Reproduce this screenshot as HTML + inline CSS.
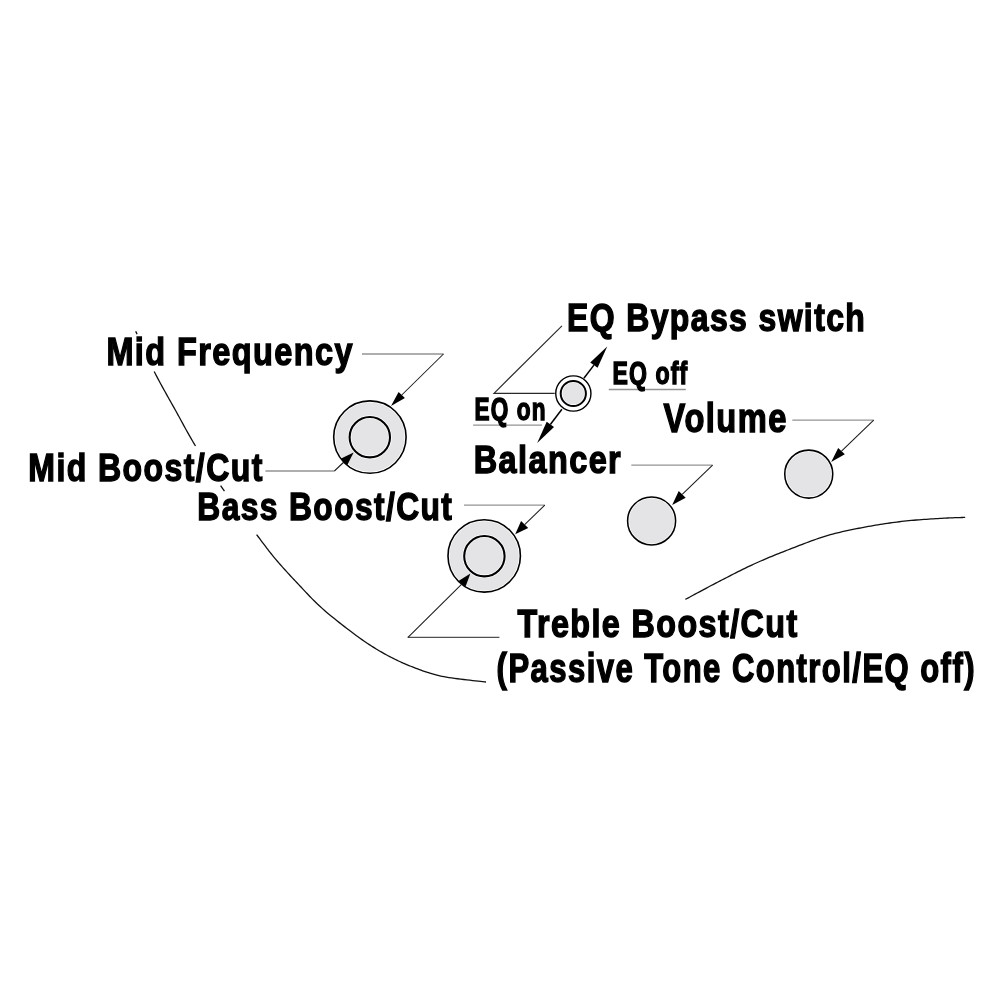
<!DOCTYPE html><html><head><meta charset="utf-8"><style>html,body{margin:0;padding:0;background:#fff;width:1000px;height:1000px;overflow:hidden}svg{display:block;position:absolute;left:0;top:0}#tx{will-change:transform}</style></head><body>
<svg width="1000" height="1000" viewBox="0 0 1000 1000">
<path d="M135.70,331.20 L136.34,332.62 L137.11,334.32" fill="none" stroke="#111" stroke-width="1.3"/>
<path d="M154.20,371.50 L155.45,373.96 L156.72,376.42 L158.01,378.87 L159.31,381.31 L160.63,383.75 L161.96,386.18 L163.30,388.60 L164.64,391.02 L165.99,393.43 L167.34,395.82 L168.69,398.21 L170.03,400.59 L171.36,402.96 L172.69,405.32 L174.00,407.67 L175.30,410.00 L176.57,412.31 L177.82,414.58 L179.05,416.81 L180.25,419.03 L181.45,421.22 L182.64,423.41 L183.83,425.58 L185.03,427.76 L186.24,429.95 L187.47,432.15 L188.72,434.37 L189.99,436.62 L191.30,438.90 L192.66,441.22 L194.05,443.58 L195.50,446.00" fill="none" stroke="#111" stroke-width="1.3"/>
<path d="M220.61,485.53 L222.50,488.30 L224.46,491.12" fill="none" stroke="#111" stroke-width="1.3"/>
<path d="M256.60,534.60 L258.21,536.74 L259.70,538.73 L261.08,540.59 L262.38,542.31 L263.59,543.94 L264.75,545.47 L265.86,546.94 L266.93,548.34 L267.99,549.71 L269.03,551.06 L270.09,552.40 L271.17,553.75 L272.29,555.13 L273.46,556.55 L274.69,558.04 L276.00,559.60 L277.37,561.22 L278.78,562.85 L280.22,564.50 L281.68,566.16 L283.16,567.83 L284.66,569.50 L286.18,571.18 L287.71,572.86 L289.25,574.54 L290.80,576.21 L292.35,577.88 L293.89,579.54 L295.43,581.18 L296.97,582.81 L298.49,584.41 L300.00,586.00 L301.48,587.56 L302.92,589.09 L304.33,590.59 L305.72,592.07 L307.10,593.54 L308.47,594.99 L309.85,596.44 L311.25,597.89 L312.67,599.34 L314.12,600.80 L315.61,602.27 L317.16,603.76 L318.76,605.27 L320.43,606.82 L322.17,608.39 L324.00,610.00 L325.94,611.67 L327.98,613.40 L330.12,615.18 L332.34,617.01 L334.63,618.86 L336.97,620.74 L339.35,622.62 L341.75,624.51 L344.16,626.38 L346.56,628.22 L348.94,630.04 L351.28,631.80 L353.57,633.51 L355.80,635.16 L357.95,636.72 L360.00,638.20 L361.97,639.60 L363.88,640.93 L365.75,642.21 L367.56,643.44 L369.34,644.62 L371.09,645.76 L372.80,646.86 L374.50,647.92 L376.18,648.96 L377.85,649.97 L379.52,650.95 L381.19,651.92 L382.86,652.87 L384.55,653.82 L386.26,654.76 L388.00,655.70 L389.75,656.63 L391.50,657.54 L393.25,658.43 L395.00,659.29 L396.75,660.14 L398.50,660.97 L400.25,661.78 L402.00,662.57 L403.75,663.34 L405.50,664.10 L407.25,664.84 L409.00,665.56 L410.75,666.27 L412.50,666.96 L414.25,667.64 L416.00,668.30 L417.72,668.95 L419.40,669.57 L421.05,670.18 L422.67,670.77 L424.28,671.34 L425.88,671.89 L427.50,672.43 L429.12,672.96 L430.78,673.47 L432.47,673.96 L434.22,674.44 L436.02,674.92 L437.88,675.38 L439.83,675.83 L441.87,676.27 L444.00,676.70 L446.32,677.13 L448.87,677.55 L451.61,677.96 L454.50,678.37 L457.50,678.76 L460.57,679.15 L463.67,679.52 L466.75,679.88 L469.78,680.21 L472.71,680.54 L475.51,680.84 L478.12,681.12 L480.52,681.38 L482.66,681.61 L484.50,681.82 L486.00,682.00" fill="none" stroke="#111" stroke-width="1.3"/>
<path d="M685.40,599.40 L686.54,598.79 L687.89,598.06 L689.45,597.22 L691.18,596.29 L693.07,595.27 L695.09,594.18 L697.22,593.02 L699.45,591.82 L701.75,590.59 L704.09,589.33 L706.47,588.07 L708.85,586.80 L711.21,585.55 L713.54,584.32 L715.81,583.14 L718.00,582.00 L720.16,580.89 L722.34,579.76 L724.54,578.62 L726.76,577.47 L729.00,576.32 L731.25,575.16 L733.51,574.00 L735.79,572.84 L738.07,571.69 L740.35,570.55 L742.64,569.42 L744.92,568.30 L747.20,567.19 L749.48,566.11 L751.74,565.04 L754.00,564.00 L756.25,562.98 L758.49,561.98 L760.72,561.00 L762.95,560.03 L765.18,559.07 L767.41,558.13 L769.64,557.20 L771.88,556.28 L774.11,555.37 L776.35,554.46 L778.60,553.56 L780.86,552.67 L783.13,551.78 L785.40,550.88 L787.70,549.99 L790.00,549.10 L792.32,548.20 L794.65,547.29 L797.00,546.38 L799.36,545.47 L801.73,544.56 L804.10,543.65 L806.49,542.74 L808.88,541.85 L811.27,540.97 L813.66,540.10 L816.06,539.26 L818.45,538.43 L820.85,537.63 L823.24,536.86 L825.62,536.11 L828.00,535.40 L830.38,534.72 L832.75,534.07 L835.12,533.44 L837.50,532.84 L839.88,532.27 L842.25,531.71 L844.62,531.17 L847.00,530.65 L849.38,530.15 L851.75,529.65 L854.12,529.17 L856.50,528.71 L858.88,528.25 L861.25,527.79 L863.62,527.34 L866.00,526.90 L868.38,526.46 L870.75,526.03 L873.12,525.62 L875.50,525.21 L877.88,524.82 L880.25,524.43 L882.62,524.06 L885.00,523.70 L887.38,523.35 L889.75,523.01 L892.12,522.68 L894.50,522.36 L896.88,522.06 L899.25,521.76 L901.62,521.47 L904.00,521.20 L906.40,520.94 L908.85,520.69 L911.34,520.45 L913.85,520.23 L916.37,520.02 L918.90,519.82 L921.42,519.63 L923.93,519.45 L926.40,519.28 L928.83,519.12 L931.22,518.96 L933.54,518.82 L935.79,518.68 L937.96,518.55 L940.03,518.42 L942.00,518.30 L943.90,518.19 L945.77,518.09 L947.60,517.99 L949.38,517.91 L951.12,517.84 L952.80,517.78 L954.42,517.72 L955.98,517.67 L957.45,517.62 L958.85,517.58 L960.16,517.55 L961.38,517.51 L962.50,517.48 L963.51,517.46 L964.41,517.43 L965.20,517.40" fill="none" stroke="#111" stroke-width="1.3"/>
<circle cx="369.9" cy="437.1" r="36.2" fill="#e4e4e6" stroke="#fff" stroke-width="3.1"/>
<circle cx="369.9" cy="437.1" r="36.2" fill="none" stroke="#000" stroke-width="1.6"/>
<circle cx="369.8" cy="437.2" r="20.2" fill="#e4e4e6" stroke="#fff" stroke-width="3.6"/>
<circle cx="369.8" cy="437.2" r="20.2" fill="none" stroke="#000" stroke-width="2.1"/>
<circle cx="484.2" cy="555.9" r="36.2" fill="#e4e4e6" stroke="#fff" stroke-width="3.1"/>
<circle cx="484.2" cy="555.9" r="36.2" fill="none" stroke="#000" stroke-width="1.6"/>
<circle cx="484.4" cy="556.2" r="20.2" fill="#e4e4e6" stroke="#fff" stroke-width="3.6"/>
<circle cx="484.4" cy="556.2" r="20.2" fill="none" stroke="#000" stroke-width="2.1"/>
<circle cx="651.6" cy="520.9" r="24.0" fill="#e4e4e6" stroke="#fff" stroke-width="3.05"/>
<circle cx="651.6" cy="520.9" r="24.0" fill="none" stroke="#000" stroke-width="1.55"/>
<circle cx="808.75" cy="474.1" r="24.0" fill="#e4e4e6" stroke="#fff" stroke-width="3.05"/>
<circle cx="808.75" cy="474.1" r="24.0" fill="none" stroke="#000" stroke-width="1.55"/>
<circle cx="573.35" cy="393.5" r="17.6" fill="#fff" stroke="#fff" stroke-width="2.9"/>
<circle cx="573.35" cy="393.5" r="17.6" fill="none" stroke="#000" stroke-width="1.4"/>
<circle cx="573.3" cy="393.5" r="12.6" fill="#e4e4e6" stroke="#fff" stroke-width="3.5"/>
<circle cx="573.3" cy="393.5" r="12.6" fill="none" stroke="#000" stroke-width="2.0"/>
<path d="M362,354 H443.5" stroke="#939393" stroke-width="1.3" fill="none"/>
<path d="M443.5,354 L401.75,395" stroke="#1a1a1a" stroke-width="1.05" fill="none"/>
<path d="M391.00,406.00 L398.60,391.92 L404.90,398.08 Z" fill="#000"/>
<path d="M265.4,471 H334.4" stroke="#939393" stroke-width="1.3" fill="none"/>
<path d="M334.4,471 L343.9,462" stroke="#1a1a1a" stroke-width="1.05" fill="none"/>
<path d="M353.60,452.40 L347.21,465.34 L340.59,458.66 Z" fill="#000"/>
<path d="M464,505.1 H544.8" stroke="#939393" stroke-width="1.3" fill="none"/>
<path d="M544.8,505.1 L524.65,524.6" stroke="#1a1a1a" stroke-width="1.05" fill="none"/>
<path d="M515.20,534.20 L521.09,521.09 L528.21,528.11 Z" fill="#000"/>
<path d="M407.6,637.4 H499.4" stroke="#505050" stroke-width="1.15" fill="none"/>
<path d="M408,637.3 L462,583.8" stroke="#1a1a1a" stroke-width="1.05" fill="none"/>
<path d="M470.40,573.40 L465.50,586.63 L458.50,580.97 Z" fill="#000"/>
<path d="M631.3,465.2 H712.6" stroke="#939393" stroke-width="1.3" fill="none"/>
<path d="M712.6,465.2 L682.2,494.4" stroke="#1a1a1a" stroke-width="1.05" fill="none"/>
<path d="M672.20,504.90 L678.72,491.09 L685.68,497.71 Z" fill="#000"/>
<path d="M792.3,420.2 H873.7" stroke="#939393" stroke-width="1.3" fill="none"/>
<path d="M873.7,420.2 L841.5,451.2" stroke="#1a1a1a" stroke-width="1.05" fill="none"/>
<path d="M831.20,462.00 L838.17,448.03 L844.83,454.37 Z" fill="#000"/>
<path d="M561.95,325.8 L494,393.3 H554.75" stroke="#2a2a2a" stroke-width="1.15" fill="none" stroke-linejoin="miter"/>
<path d="M583.9,378.25 L593.9,365.1" stroke="#000" stroke-width="1.5" fill="none"/>
<path d="M607.25,346.40 L597.56,367.71 L590.24,362.49 Z" fill="#000"/>
<path d="M561.9,409.3 L550.35,424.45" stroke="#000" stroke-width="1.5" fill="none"/>
<path d="M537.20,442.90 L546.69,421.84 L554.01,427.06 Z" fill="#000"/>
<path d="M608.8,389.5 H685.8" stroke="#939393" stroke-width="1.3" fill="none"/>
<path d="M473.1,425.1 H542" stroke="#939393" stroke-width="1.3" fill="none"/>
</svg><svg id="tx" width="1000" height="1000" viewBox="0 0 1000 1000">
<text transform="translate(106.40,364.85) scale(0.8211,1)" font-family="Liberation Sans" font-weight="bold" font-size="39.54" letter-spacing="1.735" fill="#000" stroke="#000" stroke-width="1.3" vector-effect="non-scaling-stroke">Mid Frequency</text>
<text transform="translate(28.30,481.35) scale(0.8102,1)" font-family="Liberation Sans" font-weight="bold" font-size="39.54" letter-spacing="1.759" fill="#000" stroke="#000" stroke-width="1.3" vector-effect="non-scaling-stroke">Mid Boost/Cut</text>
<text transform="translate(197.30,519.85) scale(0.8090,1)" font-family="Liberation Sans" font-weight="bold" font-size="39.24" letter-spacing="1.749" fill="#000" stroke="#000" stroke-width="1.3" vector-effect="non-scaling-stroke">Bass Boost/Cut</text>
<text transform="translate(567.00,330.85) scale(0.8196,1)" font-family="Liberation Sans" font-weight="bold" font-size="38.95" letter-spacing="1.714" fill="#000" stroke="#000" stroke-width="1.3" vector-effect="non-scaling-stroke">EQ Bypass switch</text>
<text transform="translate(474.50,420.35) scale(0.7186,1)" font-family="Liberation Sans" font-weight="bold" font-size="31.40" letter-spacing="1.593" fill="#000" stroke="#000" stroke-width="1.3" vector-effect="non-scaling-stroke">EQ on</text>
<text transform="translate(612.50,384.35) scale(0.7482,1)" font-family="Liberation Sans" font-weight="bold" font-size="30.81" letter-spacing="1.504" fill="#000" stroke="#000" stroke-width="1.3" vector-effect="non-scaling-stroke">EQ off</text>
<text transform="translate(663.60,431.55) scale(0.8171,1)" font-family="Liberation Sans" font-weight="bold" font-size="39.97" letter-spacing="1.762" fill="#000" stroke="#000" stroke-width="1.3" vector-effect="non-scaling-stroke">Volume</text>
<text transform="translate(473.70,473.35) scale(0.8177,1)" font-family="Liberation Sans" font-weight="bold" font-size="39.68" letter-spacing="1.749" fill="#000" stroke="#000" stroke-width="1.3" vector-effect="non-scaling-stroke">Balancer</text>
<text transform="translate(517.60,636.75) scale(0.8199,1)" font-family="Liberation Sans" font-weight="bold" font-size="39.39" letter-spacing="1.732" fill="#000" stroke="#000" stroke-width="1.3" vector-effect="non-scaling-stroke">Treble Boost/Cut</text>
<text transform="translate(496.60,681.65) scale(0.7739,1)" font-family="Liberation Sans" font-weight="bold" font-size="40.12" letter-spacing="1.867" fill="#000" stroke="#000" stroke-width="1.3" vector-effect="non-scaling-stroke">(Passive Tone Control/EQ off)</text>
</svg></body></html>
